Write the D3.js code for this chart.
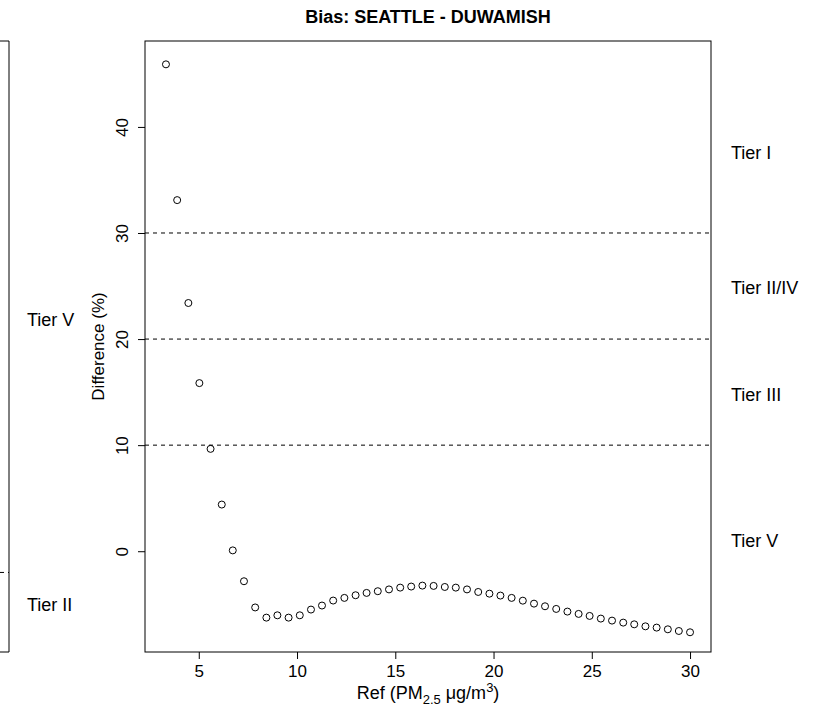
<!DOCTYPE html>
<html>
<head>
<meta charset="utf-8">
<script src="https://cdn.jsdelivr.net/npm/d3@7"></script>
<style>
  body { margin: 0; background: #fff; }
  text { font-family: "Liberation Sans", Arial, sans-serif; fill: #000; }
</style>
</head>
<body>
<div id="biasPlot"></div>
<script>

// data
var refValues = [3.33, 3.90, 4.47, 5.03, 5.60, 6.17, 6.73, 7.30, 7.87, 8.44,
    9.00, 9.57, 10.14, 10.71, 11.27, 11.84, 12.41, 12.98, 13.54, 14.11,
    14.68, 15.25, 15.81, 16.38, 16.95, 17.52, 18.08, 18.65, 19.22, 19.79,
    20.35, 20.92, 21.49, 22.06, 22.62, 23.19, 23.76, 24.33, 24.89, 25.46,
    26.03, 26.60, 27.16, 27.73, 28.30, 28.87, 29.43, 30.00];
var diffValues = [45.9, 33.1, 23.4, 15.85, 9.65, 4.4, 0.08, -2.83, -5.3, -6.26,
    -6.04, -6.26, -6.04, -5.5, -5.12, -4.65, -4.4, -4.15, -3.93, -3.77,
    -3.6, -3.43, -3.33, -3.24, -3.27, -3.37, -3.43, -3.6, -3.84, -4.0,
    -4.18, -4.4, -4.66, -4.94, -5.19, -5.44, -5.69, -5.91, -6.1, -6.35,
    -6.54, -6.73, -6.89, -7.08, -7.2, -7.36, -7.52, -7.64];

var xTicks = [5, 10, 15, 20, 25, 30];
var yTicks = [0, 10, 20, 30, 40];
var yLimits = [-9.5, 48.1];
var tierCuts = [10, 20, 30];
var tierNames = ["Tier I", "Tier II/IV", "Tier III", "Tier V"];
var tierLabelAt = [37.6, 24.8, 14.8, 1.0];

// bits of the neighbouring panel that show at the left edge
var prevTierNames = ["Tier V", "Tier II"];
var prevTierAt = [21.8, -5];
var prevCut = -2;

var titleText = "Bias: SEATTLE - DUWAMISH";

// define dimensions
var svgWidth = 818;
var svgHeight = 706;

var margin = {
  top: 41,
  right: 107,
  bottom: 54,
  left: 145
};

var width = svgWidth - margin.left - margin.right;
var height = svgHeight - margin.top - margin.bottom;

var svg = d3.select("#biasPlot")
    .append("svg")
    .attr("width", svgWidth)
    .attr("height", svgHeight);

var chart = svg.append("g")
    .attr("transform", "translate(" + margin.left + "," + margin.top + ")");

// R style 4% padding
function padded(values) {
    var ext = d3.extent(values);
    var pad = (ext[1] - ext[0]) * 0.04;
    return [ext[0] - pad, ext[1] + pad];
}

var x = d3.scaleLinear()
    .domain(padded(refValues))
    .range([0, width]);

var y = d3.scaleLinear()
    .domain(yLimits)
    .range([height, 0]);

// tier cut lines
chart.append("g")
    .selectAll("line")
    .data(tierCuts)
    .enter()
    .append("line")
    .attr("x1", 0)
    .attr("x2", width)
    .attr("y1", function (d) { return y(d); })
    .attr("y2", function (d) { return y(d); })
    .attr("stroke", "#000")
    .attr("stroke-width", 1)
    .attr("stroke-dasharray", "4,4");

// points
chart.append("g")
    .selectAll("circle")
    .data(refValues)
    .enter()
    .append("circle")
    .attr("cx", function (d) { return x(d); })
    .attr("cy", function (d, i) { return y(diffValues[i]); })
    .attr("r", 3.5)
    .attr("fill", "none")
    .attr("stroke", "#000")
    .attr("stroke-width", 1);

// box
chart.append("rect")
    .attr("x", 0)
    .attr("y", 0)
    .attr("width", width)
    .attr("height", height)
    .attr("fill", "none")
    .attr("stroke", "#000")
    .attr("stroke-width", 1);

// x axis
var xAxis = chart.append("g")
    .attr("transform", "translate(0," + height + ")")
    .call(d3.axisBottom(x).tickValues(xTicks).tickSize(7).tickPadding(6).tickFormat(d3.format("d")));
xAxis.select(".domain").remove();
xAxis.selectAll("text").style("font-size", "17px").attr("fill", "#000");

// y axis, labels turned like R does
var yAxis = chart.append("g")
    .call(d3.axisLeft(y).tickValues(yTicks).tickSize(7).tickFormat(d3.format("d")));
yAxis.select(".domain").remove();
yAxis.selectAll("text")
    .style("font-size", "17px")
    .style("text-anchor", "middle")
    .attr("transform", "rotate(-90)")
    .attr("x", 0)
    .attr("y", -17)
    .attr("dy", 0);

// axis titles
var xTitle = svg.append("text")
    .attr("x", margin.left + width / 2)
    .attr("y", 699)
    .style("font-size", "18px")
    .style("text-anchor", "middle");
xTitle.append("tspan").text("Ref (PM");
xTitle.append("tspan").attr("dy", 5).style("font-size", "13px").text("2.5");
xTitle.append("tspan").attr("dy", -5).text(" \u03bcg/m");
xTitle.append("tspan").attr("dy", -7).style("font-size", "13px").text("3");
xTitle.append("tspan").attr("dy", 7).text(")");

svg.append("text")
    .attr("transform", "translate(104," + (margin.top + height / 2) + ") rotate(-90)")
    .style("font-size", "17px")
    .style("text-anchor", "middle")
    .text("Difference (%)");

// title
svg.append("text")
    .attr("x", margin.left + width / 2)
    .attr("y", 23)
    .style("font-size", "18px")
    .style("font-weight", "bold")
    .style("text-anchor", "middle")
    .text(titleText);

// tier labels in the right margin
svg.append("g")
    .selectAll("text")
    .data(tierNames)
    .enter()
    .append("text")
    .attr("x", 731)
    .attr("y", function (d, i) { return margin.top + y(tierLabelAt[i]); })
    .attr("dy", "0.35em")
    .style("font-size", "18px")
    .text(function (d) { return d; });

// neighbouring panel edge
svg.append("path")
    .attr("d", "M0," + margin.top + "H9V" + (margin.top + height) + "H0")
    .attr("fill", "none")
    .attr("stroke", "#000")
    .attr("stroke-width", 1);

svg.append("line")
    .attr("x1", 0)
    .attr("x2", 9)
    .attr("y1", margin.top + y(prevCut))
    .attr("y2", margin.top + y(prevCut))
    .attr("stroke", "#000")
    .attr("stroke-dasharray", "4,4");

svg.append("g")
    .selectAll("text")
    .data(prevTierNames)
    .enter()
    .append("text")
    .attr("x", 27)
    .attr("y", function (d, i) { return margin.top + y(prevTierAt[i]); })
    .attr("dy", "0.35em")
    .style("font-size", "18px")
    .text(function (d) { return d; });

</script>
</body>
</html>
